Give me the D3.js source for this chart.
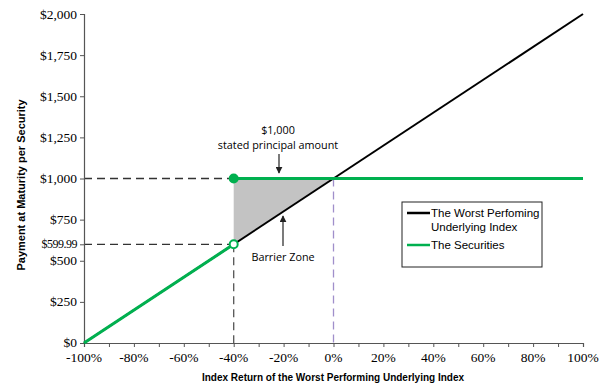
<!DOCTYPE html>
<html>
<head>
<meta charset="utf-8">
<script src="https://cdn.jsdelivr.net/npm/d3@7"></script>
<style>
    body { margin: 0; background: #fff; }
    svg { display: block; }
</style>
</head>
<body>
<svg id="chart" width="601" height="390"></svg>
<script>
// data
var indexReturn = [-1, 1];
var indexPayment = [0, 2000];
var securitiesLow = [[-1, 0], [-0.4, 599.99]];
var securitiesHigh = [[-0.4, 1000], [1, 1000]];
var barrierZone = [[-0.4, 1000], [0, 1000], [-0.4, 599.99]];
var xTicks = [-1, -0.9, -0.8, -0.7, -0.6, -0.5, -0.4, -0.3, -0.2, -0.1, 0, 0.1, 0.2, 0.3, 0.4, 0.5, 0.6, 0.7, 0.8, 0.9, 1];
var xLabels = ["-100%", "-80%", "-60%", "-40%", "-20%", "0%", "20%", "40%", "60%", "80%", "100%"];
var yTicks = [0, 250, 500, 750, 1000, 1250, 1500, 1750, 2000];
var barrierValue = 599.99;
var principal = 1000;
var barrierReturn = -0.4;

var svg = d3.select("#chart");
var x = d3.scaleLinear().domain([-1, 1]).range([84, 583]);
var y = d3.scaleLinear().domain([0, 2000]).range([343, 14]);

var green = "#00b04f";

// barrier zone fill
var line = d3.line().x(function (d) { return x(d[0]); }).y(function (d) { return y(d[1]); });
svg.append("path")
    .attr("d", line(barrierZone) + "Z")
    .attr("fill", "#c3c3c3");

// dashed guides
function dash(x1, y1, x2, y2, color) {
    svg.append("line")
        .attr("x1", x1).attr("y1", y1).attr("x2", x2).attr("y2", y2)
        .attr("stroke", color).attr("stroke-width", 1.3)
        .attr("stroke-dasharray", "8,5");
}
dash(x(-1), y(principal), x(barrierReturn), y(principal), "#333");
dash(x(-1), y(barrierValue), x(barrierReturn), y(barrierValue), "#333");
dash(x(barrierReturn), y(barrierValue), x(barrierReturn), y(0), "#555");
dash(x(0), y(principal), x(0), y(0), "#a08fcb");

// axes
svg.append("g")
    .attr("transform", "translate(0," + y(0) + ")")
    .call(d3.axisBottom(x).tickValues(xTicks).tickSize(4).tickFormat(""));
svg.append("g")
    .attr("transform", "translate(" + x(-1) + ",0)")
    .call(d3.axisLeft(y).tickValues(yTicks.concat([barrierValue])).tickSize(4).tickFormat(""));
svg.selectAll(".domain").attr("stroke", "#555").attr("stroke-width", 1.2);
svg.selectAll(".tick line").attr("stroke", "#555");

var serif = "'Liberation Serif', 'Times New Roman', serif";
svg.append("g").selectAll("text")
    .data(xLabels)
    .enter().append("text")
    .attr("x", function (d, i) { return x(-1 + i * 0.2); })
    .attr("y", 362)
    .attr("text-anchor", "middle")
    .attr("font-family", serif)
    .attr("font-size", 13.5)
    .text(function (d) { return d; });

svg.append("g").selectAll("text")
    .data(yTicks)
    .enter().append("text")
    .attr("x", 77)
    .attr("y", function (d) { return y(d) + (d === 0 ? 3.5 : 4.5); })
    .attr("text-anchor", "end")
    .attr("font-family", serif)
    .attr("font-size", 13.5)
    .text(function (d) { return "$" + d3.format(",")(d); });

svg.append("text")
    .attr("x", 77).attr("y", y(barrierValue) + 4)
    .attr("text-anchor", "end")
    .attr("font-family", serif)
    .attr("font-size", 12)
    .attr("letter-spacing", -0.5)
    .text("$599.99");

// axis titles
svg.append("text")
    .attr("x", 333).attr("y", 381)
    .attr("text-anchor", "middle")
    .attr("font-family", "Arial, 'Liberation Sans', sans-serif")
    .attr("font-weight", "bold")
    .attr("font-size", 10)
    .text("Index Return of the Worst Performing Underlying Index");

svg.append("text")
    .attr("transform", "translate(25,185) rotate(-90)")
    .attr("text-anchor", "middle")
    .attr("font-family", "Arial, 'Liberation Sans', sans-serif")
    .attr("font-weight", "bold")
    .attr("font-size", 11)
    .text("Payment at Maturity per Security");

// index line
svg.append("line")
    .attr("x1", x(indexReturn[0])).attr("y1", y(indexPayment[0]))
    .attr("x2", x(indexReturn[1])).attr("y2", y(indexPayment[1]))
    .attr("stroke", "#000").attr("stroke-width", 2);

// securities lines
[securitiesLow, securitiesHigh].forEach(function (seg) {
    svg.append("path")
        .attr("d", line(seg))
        .attr("fill", "none")
        .attr("stroke", green)
        .attr("stroke-width", 3);
});

svg.append("circle")
    .attr("cx", x(barrierReturn)).attr("cy", y(principal)).attr("r", 5)
    .attr("fill", green);
svg.append("circle")
    .attr("cx", x(barrierReturn)).attr("cy", y(barrierValue)).attr("r", 4)
    .attr("fill", "#fff").attr("stroke", green).attr("stroke-width", 2);

// annotations
var anno = "'Open Sans', 'Noto Sans', sans-serif";
svg.append("text")
    .attr("x", 278).attr("y", 134)
    .attr("text-anchor", "middle")
    .attr("font-family", anno).attr("font-size", 10.8)
    .text("$1,000");
svg.append("text")
    .attr("x", 278).attr("y", 149)
    .attr("text-anchor", "middle")
    .attr("font-family", anno).attr("font-size", 10.8)
    .text("stated principal amount");
svg.append("text")
    .attr("x", 283).attr("y", 261)
    .attr("text-anchor", "middle")
    .attr("font-family", anno).attr("font-size", 10.8)
    .text("Barrier Zone");

svg.append("defs").append("marker")
    .attr("id", "arrow")
    .attr("viewBox", "0 0 10 10")
    .attr("refX", 9).attr("refY", 5)
    .attr("markerWidth", 7).attr("markerHeight", 7)
    .attr("markerUnits", "userSpaceOnUse")
    .attr("orient", "auto")
    .append("path")
    .attr("d", "M0,0L10,5L0,10Z")
    .attr("fill", "#222");

svg.append("line")
    .attr("x1", 279).attr("y1", 154).attr("x2", 279).attr("y2", 173)
    .attr("stroke", "#222").attr("stroke-width", 1.2)
    .attr("marker-end", "url(#arrow)");
svg.append("line")
    .attr("x1", 283).attr("y1", 246).attr("x2", 283).attr("y2", 216)
    .attr("stroke", "#222").attr("stroke-width", 1.2)
    .attr("marker-end", "url(#arrow)");

// legend
var legend = svg.append("g").attr("transform", "translate(402,202)");
legend.append("rect")
    .attr("width", 140).attr("height", 65)
    .attr("fill", "#fff").attr("stroke", "#222").attr("stroke-width", 1);
var legendItems = [
    { color: "#000", lines: ["The Worst Perfoming", "Underlying Index"], y: 15 },
    { color: green, lines: ["The Securities"], y: 47 }
];
legendItems.forEach(function (item) {
    legend.append("line")
        .attr("x1", 5).attr("x2", 28)
        .attr("y1", item.y - 4).attr("y2", item.y - 4)
        .attr("stroke", item.color).attr("stroke-width", 2.5);
    item.lines.forEach(function (t, i) {
        legend.append("text")
            .attr("x", 29).attr("y", item.y + i * 14)
            .attr("font-family", "Arial, 'Liberation Sans', sans-serif")
            .attr("font-size", 11.5)
            .text(t);
    });
});
</script>
</body>
</html>
